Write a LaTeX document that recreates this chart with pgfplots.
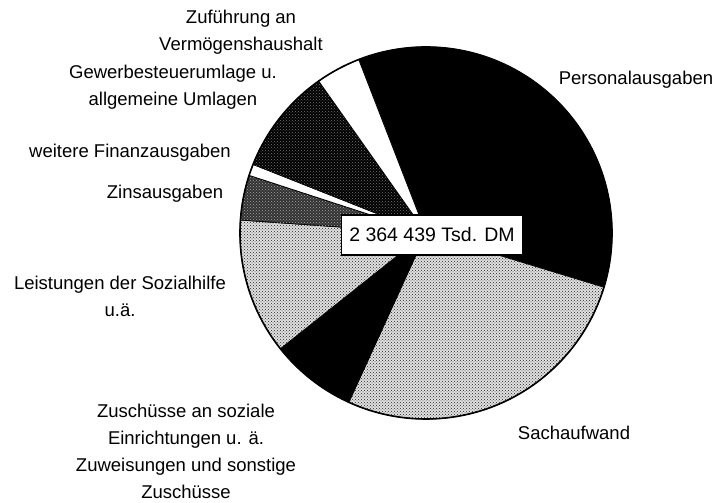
\documentclass[border=0pt]{standalone}
\usepackage{pgfplots}
\pgfplotsset{compat=1.18}
\usepackage{pgfplotstable}
\usepackage{fontspec}
\setmainfont{Liberation Sans}
\usetikzlibrary{patterns}

% shares in percent, clockwise from the top edge of Personalausgaben
\pgfplotstableread[col sep=comma]{
name,share,sty
Personalausgaben,35.6,sPers
Sachaufwand,27.1,sSach
Zuschuesse,7.5,sZusch
Sozialhilfe,11.8,sSoz
Zinsausgaben,3.9,sZins
weitere,1.0,sWeit
Gewerbesteuerumlage,9.2,sGew
Zufuehrung,3.9,sZuf
}\piedata

\tikzset{
  sPers/.style={fill=black},
  sSach/.style={fill=black!12, postaction={pattern=crosshatch dots, pattern color=black!85}},
  sZusch/.style={fill=black},
  sSoz/.style={fill=black!12, postaction={pattern=crosshatch dots, pattern color=black!85}},
  sZins/.style={fill=black!80, postaction={pattern=crosshatch dots, pattern color=black!35}},
  sWeit/.style={fill=white},
  sGew/.style={fill=black, postaction={pattern=crosshatch dots, pattern color=black!55}},
  sZuf/.style={fill=white},
  lbl/.style={align=center, font=\fontsize{18.5}{27}\selectfont},
}

\begin{document}
\begin{tikzpicture}
\begin{axis}[
    hide axis,
    scale only axis,
    width=721pt, height=503pt,
    xmin=0, xmax=721, ymin=0, ymax=503,
    enlargelimits=false,
    clip=false,
]
\addplot[draw=none] coordinates {(0,0) (721,503)};
\path (axis cs:0,0) rectangle (axis cs:721,503);

\pgfplotstablegetrowsof{\piedata}
\pgfmathtruncatemacro\nrows{\pgfplotsretval-1}
\gdef\angA{111.2}
\pgfplotsforeachungrouped \i in {0,...,\nrows}{%
  \pgfplotstablegetelem{\i}{share}\of\piedata \let\val\pgfplotsretval
  \pgfplotstablegetelem{\i}{sty}\of\piedata \let\sty\pgfplotsretval
  \pgfmathsetmacro\angB{\angA-3.6*\val}
  \edef\slice{\noexpand\filldraw[\sty, draw=black, line width=0.8pt]
    (axis cs:426,270) -- ++(\angA:186pt)
    arc[start angle=\angA, end angle=\angB, radius=186pt] -- cycle;}
  \slice
  \global\let\angA\angB
}
\draw[line width=1.6pt] (axis cs:426,270) circle[radius=186pt];

\node[draw=black, line width=1.2pt, fill=white, inner xsep=8pt, minimum height=40pt,
      font=\fontsize{19.5}{22}\selectfont] at (axis cs:432,268) {2 364 439 Tsd. DM};

\node[lbl] at (axis cs:241,471) {Zuführung an\\Vermögenshaushalt};
\node[lbl] at (axis cs:173,416) {Gewerbesteuerumlage u.\\allgemeine Umlagen};
\node[lbl] at (axis cs:130,350) {weitere Finanzausgaben};
\node[lbl] at (axis cs:165,309) {Zinsausgaben};
\node[lbl] at (axis cs:120,207) {Leistungen der Sozialhilfe\\u.ä.};
\node[lbl] at (axis cs:186,51.5) {Zuschüsse an soziale\\Einrichtungen u. ä.\\Zuweisungen und sonstige\\Zuschüsse};
\node[lbl] at (axis cs:636,423) {Personalausgaben};
\node[lbl] at (axis cs:574,70) {Sachaufwand};
\end{axis}
\end{tikzpicture}
\end{document}
